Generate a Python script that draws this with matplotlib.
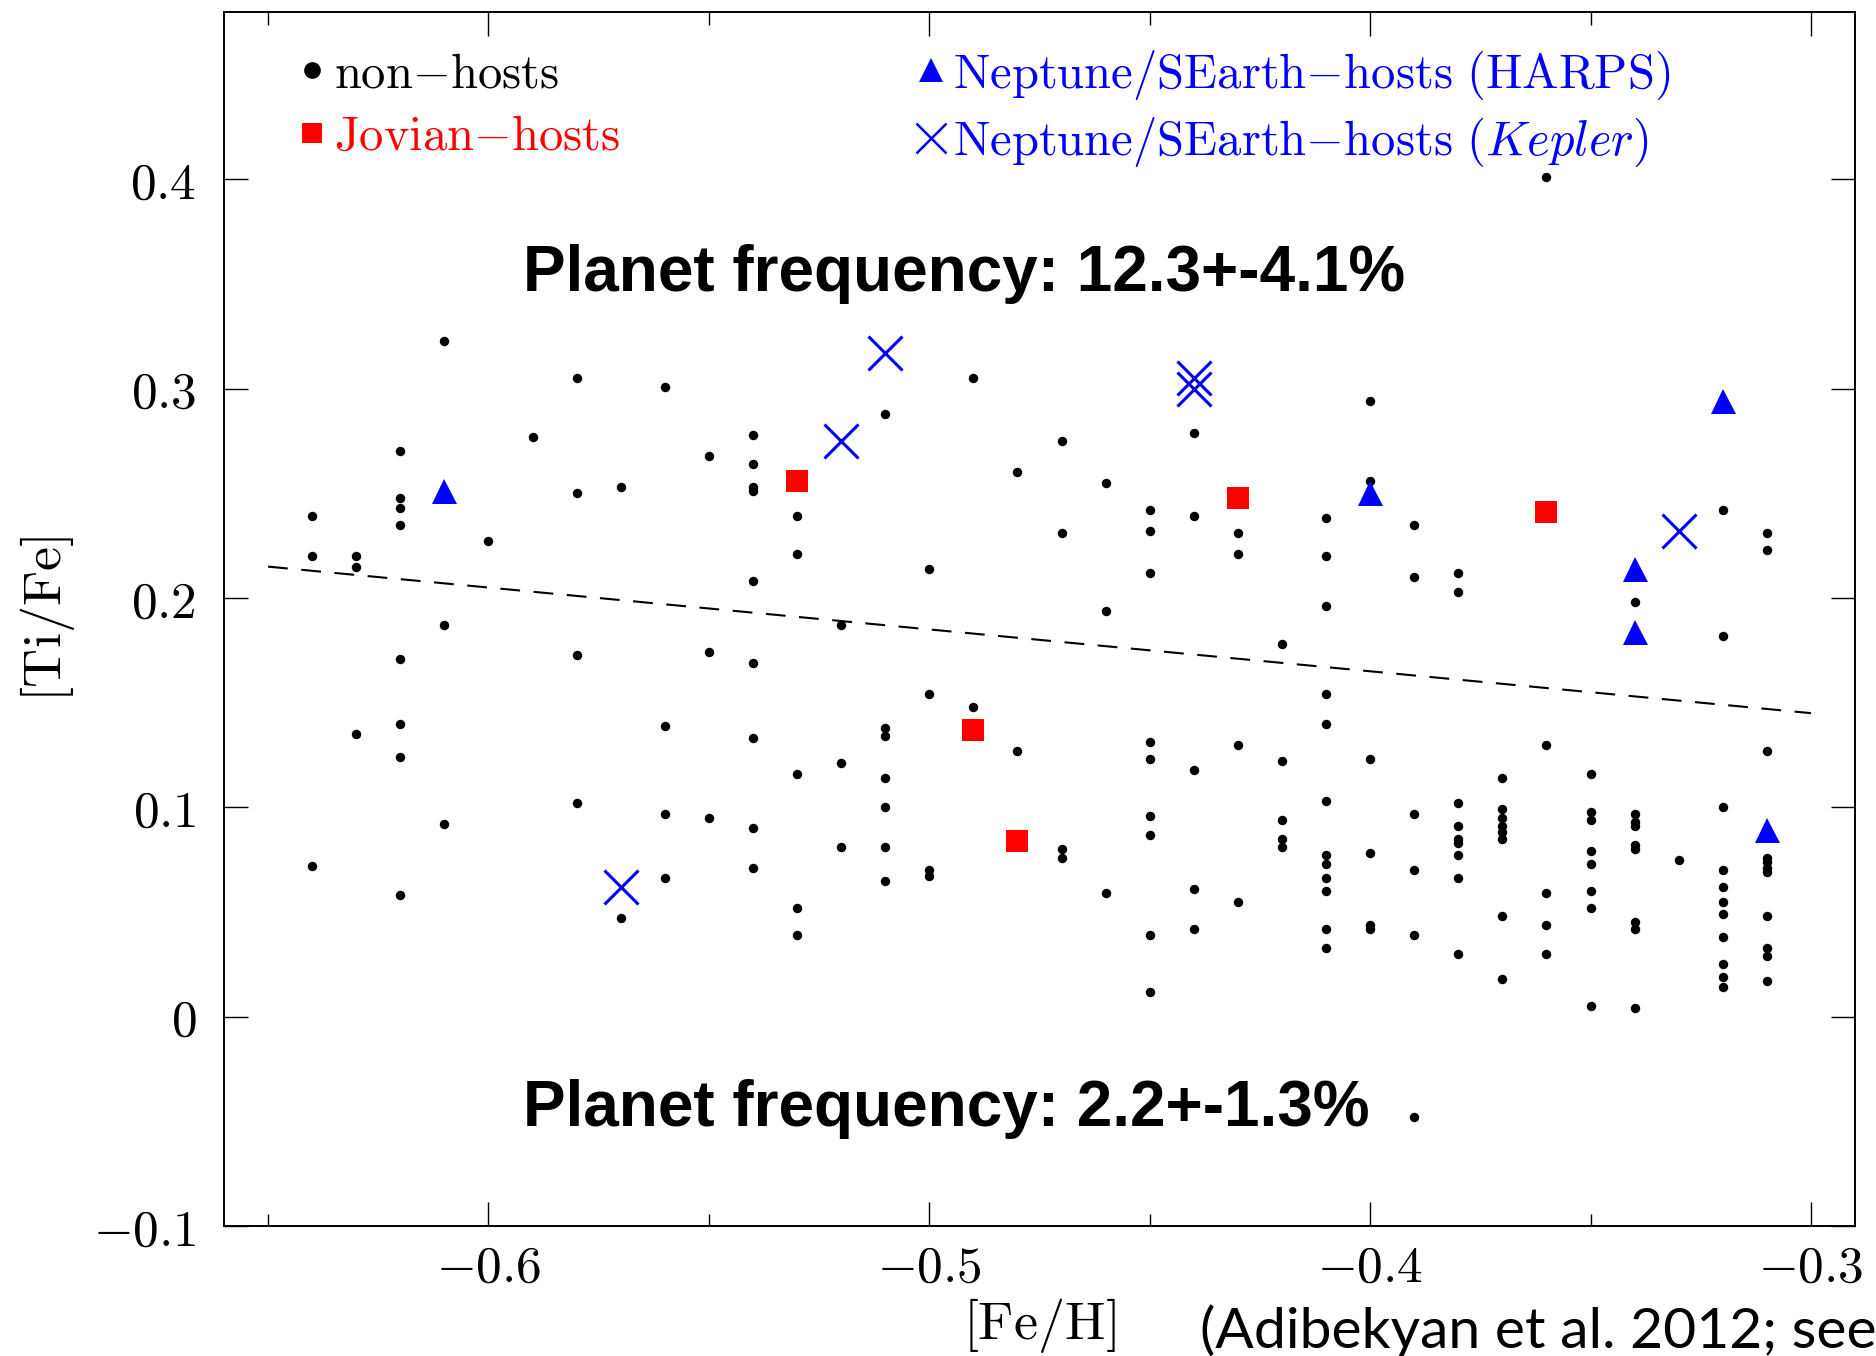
import matplotlib
matplotlib.use("Agg")
import matplotlib.pyplot as plt
from matplotlib.lines import Line2D

plt.rcParams["mathtext.fontset"] = "cm"
plt.rcParams["font.family"] = ["DejaVu Sans"]

# non-hosts, read column by column ([Fe/H] in steps of 0.01)
nonhost_feh = (
    [-0.64] * 3 + [-0.63] * 3 + [-0.62] * 8 + [-0.61] * 3 + [-0.60] * 1
    + [-0.59] * 1 + [-0.58] * 4 + [-0.57] * 2 + [-0.56] * 4 + [-0.55] * 3
    + [-0.54] * 9 + [-0.53] * 5 + [-0.52] * 3 + [-0.51] * 7 + [-0.50] * 4
    + [-0.49] * 2 + [-0.48] * 2 + [-0.47] * 4 + [-0.46] * 3 + [-0.45] * 9
    + [-0.44] * 5 + [-0.43] * 4 + [-0.42] * 5 + [-0.41] * 12 + [-0.40] * 6
    + [-0.39] * 6 + [-0.38] * 9 + [-0.37] * 8 + [-0.36] * 5 + [-0.35] * 8
    + [-0.34] * 9 + [-0.33] * 1 + [-0.32] * 11 + [-0.31] * 11
)
nonhost_tife = [
    0.239, 0.220, 0.072,
    0.220, 0.215, 0.135,
    0.270, 0.248, 0.243, 0.235, 0.171, 0.140, 0.124, 0.058,
    0.323, 0.187, 0.092,
    0.227,
    0.277,
    0.305, 0.250, 0.173, 0.102,
    0.253, 0.047,
    0.301, 0.139, 0.097, 0.066,
    0.268, 0.174, 0.095,
    0.278, 0.264, 0.253, 0.251, 0.208, 0.169, 0.133, 0.090, 0.071,
    0.239, 0.221, 0.116, 0.052, 0.039,
    0.187, 0.121, 0.081,
    0.288, 0.138, 0.134, 0.114, 0.100, 0.081, 0.065,
    0.214, 0.154, 0.070, 0.067,
    0.305, 0.148,
    0.260, 0.127,
    0.275, 0.231, 0.080, 0.076,
    0.255, 0.194, 0.059,
    0.242, 0.232, 0.212, 0.131, 0.123, 0.096, 0.087, 0.039, 0.012,
    0.279, 0.239, 0.118, 0.061, 0.042,
    0.231, 0.221, 0.130, 0.055,
    0.178, 0.122, 0.094, 0.085, 0.081,
    0.238, 0.220, 0.196, 0.154, 0.140, 0.103, 0.077, 0.073, 0.066, 0.060, 0.042, 0.033,
    0.294, 0.256, 0.123, 0.078, 0.044, 0.042,
    0.235, 0.210, 0.097, 0.070, 0.039, -0.048,
    0.212, 0.203, 0.102, 0.091, 0.085, 0.083, 0.077, 0.066, 0.030,
    0.114, 0.099, 0.095, 0.091, 0.088, 0.085, 0.048, 0.018,
    0.401, 0.130, 0.059, 0.044, 0.030,
    0.116, 0.098, 0.094, 0.079, 0.073, 0.060, 0.052, 0.005,
    0.198, 0.097, 0.093, 0.091, 0.082, 0.080, 0.045, 0.042, 0.004,
    0.075,
    0.242, 0.182, 0.100, 0.070, 0.062, 0.055, 0.049, 0.038, 0.025, 0.019, 0.014,
    0.231, 0.223, 0.127, 0.076, 0.074, 0.071, 0.069, 0.048, 0.033, 0.029, 0.017,
]

jovian_feh = [-0.53, -0.49, -0.48, -0.43, -0.36]
jovian_tife = [0.256, 0.137, 0.084, 0.248, 0.241]

harps_feh = [-0.61, -0.40, -0.34, -0.34, -0.32, -0.31]
harps_tife = [0.251, 0.250, 0.214, 0.184, 0.294, 0.089]

kepler_feh = [-0.57, -0.52, -0.51, -0.44, -0.44, -0.33]
kepler_tife = [0.062, 0.275, 0.317, 0.305, 0.300, 0.232]

# dashed separation line
trend_feh = [-0.65, -0.30]
trend_tife = [0.215, 0.145]

xticks = [-0.6, -0.5, -0.4, -0.3]
xtick_labels = [r"$-0.6$", r"$-0.5$", r"$-0.4$", r"$-0.3$"]
xminor = [-0.65, -0.55, -0.45, -0.35]
yticks = [-0.1, 0.0, 0.1, 0.2, 0.3, 0.4]
ytick_labels = [r"$-0.1$", r"$0$", r"$0.1$", r"$0.2$", r"$0.3$", r"$0.4$"]

legend_labels = [
    r"$\mathrm{non{-}hosts}$",
    r"$\mathrm{Jovian{-}hosts}$",
    r"$\mathrm{Neptune/SEarth{-}hosts\ (HARPS)}$",
    r"$\mathrm{Neptune/SEarth{-}hosts\ (}\mathit{Kepler}\mathrm{)}$",
]
legend_colors = ["black", "red", "blue", "blue"]

fig = plt.figure(figsize=(18.76, 13.56), dpi=100)
ax = fig.add_axes([0.1194, 0.0959, 0.8694, 0.8953])

ax.plot(trend_feh, trend_tife, color="black", lw=1.5, linestyle=(0, (9.5, 6.5)))
ax.plot(nonhost_feh, nonhost_tife, "o", color="black", ms=6.8, mew=0, ls="none")
ax.plot(jovian_feh, jovian_tife, "s", color="red", ms=16.5, mew=0, ls="none")
ax.plot(harps_feh, harps_tife, "^", color="blue", ms=18, mew=0, ls="none")
ax.plot(kepler_feh, kepler_tife, "x", color="blue", ms=25, mew=2.2, ls="none")

ax.set_xlim(-0.66, -0.29)
ax.set_ylim(-0.1, 0.48)
ax.set_xticks(xticks)
ax.set_xticklabels(xtick_labels)
ax.set_xticks(xminor, minor=True)
ax.set_yticks(yticks)
ax.set_yticklabels(ytick_labels)
ax.tick_params(which="both", direction="in", top=True, right=True, width=1.0, color="black")
ax.tick_params(which="major", length=17, labelsize=37)
ax.tick_params(axis="x", which="major", pad=12)
ax.tick_params(axis="y", which="major", pad=20)
ax.tick_params(which="minor", length=9)
for spine in ax.spines.values():
    spine.set_linewidth(1.4)

ax.set_xlabel(r"$[\mathrm{Fe/H}]$", fontsize=39, va="center")
ax.xaxis.set_label_coords(0.5, -0.082)
ax.set_ylabel(r"$[\mathrm{Ti/Fe}]$", fontsize=39, va="center")
ax.yaxis.set_label_coords(-0.108, 0.5)

handles = [
    Line2D([], [], marker="o", color="black", ms=12, mew=0, ls="none"),
    Line2D([], [], marker="s", color="red", ms=15, mew=0, ls="none"),
    Line2D([], [], marker="^", color="blue", ms=17, mew=0, ls="none"),
    Line2D([], [], marker="x", color="blue", ms=22, mew=1.8, ls="none"),
]
ax.legend(
    handles, legend_labels, loc="upper left", bbox_to_anchor=(0.045, 0.970),
    ncol=2, frameon=False, fontsize=35, handlelength=0.6, handletextpad=0.15,
    columnspacing=6.1, labelspacing=0.3, borderpad=0, borderaxespad=0,
    labelcolor=legend_colors,
)

ax.text(0.1834, 0.770, "Planet frequency: 12.3+-4.1%", transform=ax.transAxes,
        fontsize=46, fontweight="bold", family=["Liberation Sans", "DejaVu Sans"],
        va="baseline")
ax.text(0.1834, 0.0824, "Planet frequency: 2.2+-1.3%", transform=ax.transAxes,
        fontsize=46, fontweight="bold", family=["Liberation Sans", "DejaVu Sans"],
        va="baseline")

fig.text(0.6397, 0.006, "(Adibekyan et al. 2012; see", fontsize=41,
         family=["Lato", "DejaVu Sans"], va="baseline")

fig.savefig("out.png", dpi=100)
